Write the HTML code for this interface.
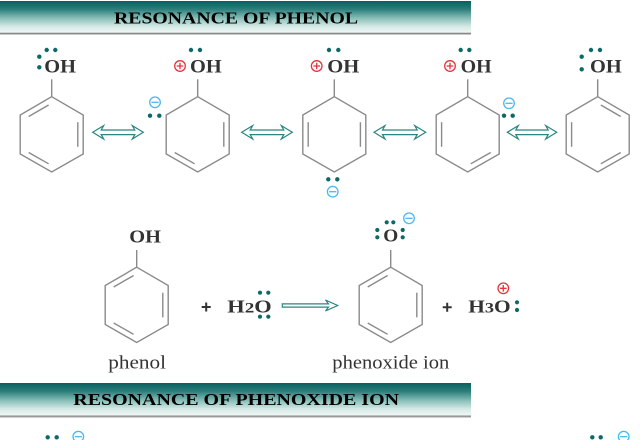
<!DOCTYPE html>
<html><head><meta charset="utf-8"><style>
html,body{margin:0;padding:0;background:#fff;}
svg{display:block;}
</style></head><body>
<svg width="640" height="440" viewBox="0 0 640 440" xmlns="http://www.w3.org/2000/svg">
<defs>
<linearGradient id="bg" x1="0" y1="0" x2="0" y2="1">
<stop offset="0" stop-color="#07615f"/>
<stop offset="0.25" stop-color="#2a7d79"/>
<stop offset="0.55" stop-color="#8cc1bb"/>
<stop offset="0.8" stop-color="#d6eae6"/>
<stop offset="1" stop-color="#f1f8f6"/>
</linearGradient>
<path id="hex" d="M0,-37.8 L31.5,-19.5 L31.5,19.5 L0,37.5 L-31.5,19.5 L-31.5,-19.5 Z" fill="none" stroke="#8a8a8a" stroke-width="1.4"/>
<path id="TL" d="M-3.1,-29.5 L-23,-18" stroke="#8a8a8a" stroke-width="1.4"/>
<path id="TR" d="M3.1,-29.5 L23,-18" stroke="#8a8a8a" stroke-width="1.4"/>
<path id="BL" d="M-3.1,29.3 L-23,18" stroke="#8a8a8a" stroke-width="1.4"/>
<path id="BR" d="M3.1,29.3 L23,18" stroke="#8a8a8a" stroke-width="1.4"/>
<path id="R" d="M26.1,-12.3 L26.1,12.3" stroke="#8a8a8a" stroke-width="1.4"/>
<path id="L" d="M-26.1,-12.3 L-26.1,12.3" stroke="#8a8a8a" stroke-width="1.4"/>
<g id="plus"><circle r="5.3" fill="none" stroke="#e3343c" stroke-width="1.3"/><path d="M-3.3,0 H3.3 M0,-3.3 V3.3" stroke="#e3343c" stroke-width="1.3"/></g>
<g id="minus"><circle r="5.3" fill="none" stroke="#4db6ee" stroke-width="1.3"/><path d="M-3.6,0 H3.6" stroke="#4db6ee" stroke-width="1.3"/></g>
</defs>

<!-- Banner 1 -->
<rect x="0" y="1" width="471" height="32" fill="url(#bg)"/>
<rect x="0" y="32.7" width="471" height="1.4" fill="#8a8a8a"/>
<rect x="0" y="34.1" width="471" height="0.9" fill="#c4c4c4"/>
<text x="114" y="23.3" textLength="244" lengthAdjust="spacingAndGlyphs" font-family="Liberation Serif, serif" font-weight="bold" font-size="16.5" fill="#000">RESONANCE OF PHENOL</text>

<!-- Banner 2 -->
<rect x="0" y="383" width="471" height="32.7" fill="url(#bg)"/>
<rect x="0" y="415.5" width="471" height="1.4" fill="#8a8a8a"/>
<rect x="0" y="416.9" width="471" height="0.9" fill="#c4c4c4"/>
<text x="73.3" y="405" textLength="325.7" lengthAdjust="spacingAndGlyphs" font-family="Liberation Serif, serif" font-weight="bold" font-size="16.5" fill="#000">RESONANCE OF PHENOXIDE ION</text>

<!-- Row 1 rings -->
<g transform="translate(51.7,134.5)"><use href="#hex"/><use href="#TL"/><use href="#R"/><use href="#BL"/><path d="M0,-37.8 V-55.2" stroke="#8a8a8a" stroke-width="1.4"/></g>
<g transform="translate(197.7,134.5)"><use href="#hex"/><use href="#R"/><use href="#BL"/><path d="M0,-37.8 V-55.2" stroke="#8a8a8a" stroke-width="1.4"/></g>
<g transform="translate(334.3,134.5)"><use href="#hex"/><use href="#L"/><use href="#R"/><path d="M0,-37.8 V-55.2" stroke="#8a8a8a" stroke-width="1.4"/></g>
<g transform="translate(467.7,134.5)"><use href="#hex"/><use href="#L"/><use href="#BR"/><path d="M0,-37.8 V-55.2" stroke="#8a8a8a" stroke-width="1.4"/></g>
<g transform="translate(597.7,134.5)"><use href="#hex"/><use href="#TR"/><use href="#L"/><use href="#BR"/><path d="M0,-37.8 V-55.2" stroke="#8a8a8a" stroke-width="1.4"/></g>

<!-- Row 1 labels -->
<g font-family="Liberation Serif, serif" font-weight="bold" font-size="18.5" fill="#333">
<text x="44.3" y="72.5" textLength="31.7" lengthAdjust="spacingAndGlyphs">OH</text>
<text x="190" y="72.5" textLength="31.7" lengthAdjust="spacingAndGlyphs">OH</text>
<text x="327.3" y="72.5" textLength="32" lengthAdjust="spacingAndGlyphs">OH</text>
<text x="460.7" y="72.5" textLength="31" lengthAdjust="spacingAndGlyphs">OH</text>
<text x="590" y="72.5" textLength="31.7" lengthAdjust="spacingAndGlyphs">OH</text>
</g>

<!-- Row 1 dots -->
<g fill="#0d6966">
<circle cx="46.7" cy="50" r="2.2"/><circle cx="55.3" cy="50" r="2.2"/>
<circle cx="39.3" cy="56.7" r="2.2"/><circle cx="39.3" cy="67.3" r="2.2"/>
<circle cx="191" cy="50" r="2.2"/><circle cx="200" cy="50" r="2.2"/>
<circle cx="150" cy="115.7" r="2.2"/><circle cx="159.3" cy="115.7" r="2.2"/>
<circle cx="329" cy="50" r="2.2"/><circle cx="338.3" cy="50" r="2.2"/>
<circle cx="328.3" cy="179.3" r="2.2"/><circle cx="337.3" cy="179.3" r="2.2"/>
<circle cx="460.7" cy="50" r="2.2"/><circle cx="469.3" cy="50" r="2.2"/>
<circle cx="504" cy="115.7" r="2.2"/><circle cx="512.7" cy="115.7" r="2.2"/>
<circle cx="591" cy="50" r="2.2"/><circle cx="600" cy="50" r="2.2"/>
<circle cx="581.7" cy="56.7" r="2.2"/><circle cx="581.7" cy="69.3" r="2.2"/>
</g>

<!-- Row 1 charges -->
<use href="#plus" transform="translate(180,66)"/>
<use href="#plus" transform="translate(316.7,66)"/>
<use href="#plus" transform="translate(450,66)"/>
<use href="#minus" transform="translate(155,102.3)"/>
<use href="#minus" transform="translate(332.7,191.7)"/>
<use href="#minus" transform="translate(509,103.3)"/>

<!-- Resonance arrows -->
<g fill="#fff" stroke="#2a8582" stroke-width="1.2" stroke-linejoin="miter">
<path d="M92.7,132.3 L103.7,125.6 L101.2,130 L134.8,130 L132.3,125.6 L143.3,132.3 L132.3,139 L134.8,134.6 L101.2,134.6 L103.7,139 Z"/>
<path d="M241.7,132.3 L252.7,125.6 L250.2,130 L283.8,130 L281.3,125.6 L292.3,132.3 L281.3,139 L283.8,134.6 L250.2,134.6 L252.7,139 Z"/>
<path d="M374,132.3 L385,125.6 L382.5,130 L417.2,130 L414.7,125.6 L425.7,132.3 L414.7,139 L417.2,134.6 L382.5,134.6 L385,139 Z"/>
<path d="M507.3,132.3 L518.3,125.6 L515.8,130 L548.2,130 L545.7,125.6 L556.7,132.3 L545.7,139 L548.2,134.6 L515.8,134.6 L518.3,139 Z"/>
<!-- reaction arrow -->
<path d="M282.3,303.9 L328.5,303.9 L325.5,300 L337.7,305.5 L325.5,311 L328.5,307.1 L282.3,307.1 Z"/>
</g>

<!-- Row 2 rings -->
<g transform="translate(136.7,305)"><use href="#hex"/><use href="#TL"/><use href="#R"/><use href="#BL"/><path d="M0,-37.8 V-55" stroke="#8a8a8a" stroke-width="1.4"/></g>
<g transform="translate(390.7,305)"><use href="#hex"/><use href="#TL"/><use href="#R"/><use href="#BL"/><path d="M0,-37.8 V-55" stroke="#8a8a8a" stroke-width="1.4"/></g>

<!-- plus signs (operators) -->
<path d="M201.7,307 H210.7 M206.2,302.5 V311.5" stroke="#333" stroke-width="2"/>
<path d="M442.7,307.3 H451.7 M447.2,302.8 V311.8" stroke="#333" stroke-width="2"/>

<!-- Row 2 labels -->
<g font-family="Liberation Serif, serif" font-weight="bold" fill="#333">
<text x="129.3" y="242.7" font-size="17.5" textLength="31.7" lengthAdjust="spacingAndGlyphs">OH</text>
<text x="227.3" y="312.3" font-size="17.5" textLength="44.4" lengthAdjust="spacingAndGlyphs">H<tspan font-size="15">2</tspan>O</text>
<text x="383.3" y="241.7" font-size="17.5" textLength="15" lengthAdjust="spacingAndGlyphs">O</text>
<text x="468.3" y="312.3" font-size="17.5" textLength="42.4" lengthAdjust="spacingAndGlyphs">H<tspan font-size="15">3</tspan>O</text>
</g>
<g font-family="Liberation Serif, serif" font-size="18.5" fill="#333">
<text x="108.3" y="368.3" textLength="57.7" lengthAdjust="spacingAndGlyphs">phenol</text>
<text x="332.3" y="368.3" textLength="117" lengthAdjust="spacingAndGlyphs">phenoxide ion</text>
</g>

<!-- Row 2 dots -->
<g fill="#0d6966">
<circle cx="260" cy="292.7" r="2.1"/><circle cx="268.3" cy="292.7" r="2.1"/>
<circle cx="260" cy="316.7" r="2.1"/><circle cx="268.3" cy="316.7" r="2.1"/>
<circle cx="386.7" cy="222.3" r="2.1"/><circle cx="393.3" cy="222.3" r="2.1"/>
<circle cx="377.3" cy="230" r="2.1"/><circle cx="377.3" cy="237.3" r="2.1"/>
<circle cx="402.7" cy="230" r="2.1"/><circle cx="402.7" cy="237.3" r="2.1"/>
<circle cx="517" cy="302.3" r="2.1"/><circle cx="517" cy="310" r="2.1"/>
<circle cx="47.7" cy="437.3" r="2.2"/><circle cx="56.7" cy="437.3" r="2.2"/>
<circle cx="592.3" cy="437.3" r="2.2"/><circle cx="600.7" cy="437.3" r="2.2"/>
</g>
<use href="#minus" transform="translate(409,218.3)"/>
<use href="#plus" transform="translate(503.3,288.3)"/>
<use href="#minus" transform="translate(78.3,436.7)"/>
<use href="#minus" transform="translate(623.7,436.7)"/>
</svg>
</body></html>
